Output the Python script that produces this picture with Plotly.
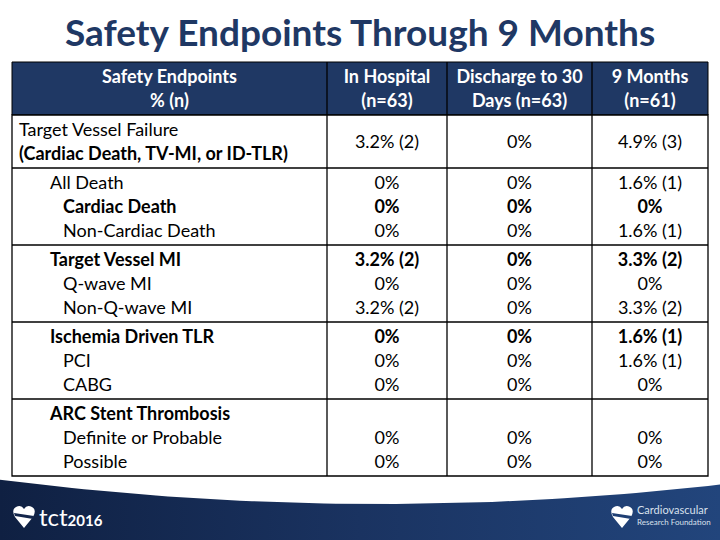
import plotly.graph_objects as go
import numpy as np

# ---------------- data ----------------
title_text = "Safety Endpoints Through 9 Months"
header_lines = [["Safety Endpoints", "% (n)"],
                ["In Hospital", "(n=63)"],
                ["Discharge to 30", "Days (n=63)"],
                ["9 Months", "(n=61)"]]

endpoint_lines = ["Target Vessel Failure", "(Cardiac Death, TV-MI, or ID-TLR)",
                  "All Death", "Cardiac Death", "Non-Cardiac Death",
                  "Target Vessel MI", "Q-wave MI", "Non-Q-wave MI",
                  "Ischemia Driven TLR", "PCI", "CABG",
                  "ARC Stent Thrombosis", "Definite or Probable", "Possible"]
endpoint_level = [0, 0, 1, 2, 2, 1, 2, 2, 1, 2, 2, 1, 2, 2]
endpoint_bold = [False, True, False, True, False, True, False, False,
                 True, False, False, True, False, False]
endpoint_row = [0, 0, 1, 1, 1, 2, 2, 2, 3, 3, 3, 4, 4, 4]
endpoint_slot = [0, 1, 0, 1, 2, 0, 1, 2, 0, 1, 2, 0, 1, 2]

value_row = [0, 1, 1, 1, 2, 2, 2, 3, 3, 3, 4, 4]
value_slot = [0.5, 0, 1, 2, 0, 1, 2, 0, 1, 2, 1, 2]
value_bold = [False, False, True, False, True, False, False, True, False, False, False, False]
in_hospital = ["3.2% (2)", "0%", "0%", "0%", "3.2% (2)", "0%", "3.2% (2)",
               "0%", "0%", "0%", "0%", "0%"]
discharge_30d = ["0%", "0%", "0%", "0%", "0%", "0%", "0%",
                 "0%", "0%", "0%", "0%", "0%"]
nine_months = ["4.9% (3)", "1.6% (1)", "0%", "1.6% (1)", "3.3% (2)", "0%", "3.3% (2)",
               "1.6% (1)", "1.6% (1)", "0%", "0%", "0%"]
row_line_counts = [2, 3, 3, 3, 3]

# ---------------- layout geometry ----------------
NAVY = "#1f3864"
FONT = "Lato"
FS = 18
col_edges = [12, 327, 447, 592, 708]
col_centers = [(col_edges[i] + col_edges[i + 1]) / 2 for i in range(4)]
header_top, header_bottom = 62, 115
pitch = 24
row_pad = 5
text_dy = 2
row_tops = [header_bottom]
for n in row_line_counts:
    row_tops.append(row_tops[-1] + n * pitch + row_pad)
indent_x = {0: 19, 1: 50, 2: 63}


def line_y(row, slot):
    return row_tops[row] + row_pad / 2 + pitch / 2 + pitch * slot + text_dy


def b(txt, flag):
    return f"<b>{txt}</b>" if flag else txt


fig = go.Figure()

# footer band (decoration)
xs = np.linspace(0, 720, 61)
top = 481 + 23 * (1 - ((xs - 380) / 370) ** 2)
fx = list(xs) + [720, 0]
fy = list(top) + [540, 540]
fig.add_trace(go.Scatter(x=fx, y=fy, mode="lines", fill="toself", line=dict(width=0),
                         fillgradient=dict(type="horizontal",
                                           colorscale=[[0, "#0f2042"], [0.5, "#1a3361"], [1, "#22457c"]]),
                         hoverinfo="skip", showlegend=False))

shapes = []
shapes.append(dict(type="rect", x0=col_edges[0], x1=col_edges[-1], y0=header_top, y1=header_bottom,
                   fillcolor=NAVY, line=dict(color="black", width=1), layer="below"))
shapes.append(dict(type="rect", x0=col_edges[0], x1=col_edges[-1], y0=header_bottom, y1=row_tops[-1],
                   fillcolor="white", line=dict(color="black", width=1.3), layer="below"))
for yv in row_tops[1:-1]:
    shapes.append(dict(type="line", x0=col_edges[0], x1=col_edges[-1], y0=yv, y1=yv,
                       line=dict(color="black", width=1.3)))
for xv in col_edges[1:-1]:
    shapes.append(dict(type="line", x0=xv, x1=xv, y0=header_top, y1=row_tops[-1],
                       line=dict(color="black", width=1.3)))

# logos (decoration)
shapes.append(dict(type="path",
                   path="M 24 528 L 15 517 Q 11 510 16 507 Q 21 504 24 509 Q 27 504 32 507 Q 37 510 33 517 Z",
                   fillcolor="white", line=dict(width=0)))
shapes.append(dict(type="path", path="M 14 513 L 34 516 L 33 519 L 15 516 Z",
                   fillcolor="#13264b", line=dict(width=0)))
shapes.append(dict(type="path",
                   path="M 622 528 L 613 517 Q 609 510 614 507 Q 619 504 622 509 Q 625 504 630 507 Q 635 510 631 517 Z",
                   fillcolor="white", line=dict(width=0)))
shapes.append(dict(type="path", path="M 612 513 L 632 516 L 631 519 L 613 516 Z",
                   fillcolor="#1f3f73", line=dict(width=0)))

# header text
for ci, lines in enumerate(header_lines):
    fig.add_trace(go.Scatter(
        x=[col_centers[ci]] * len(lines),
        y=[header_top + 14 + text_dy + pitch * k for k in range(len(lines))],
        text=[f"<b>{t}</b>" for t in lines], mode="text",
        textfont=dict(family=FONT, size=FS, color="white"),
        hoverinfo="skip", showlegend=False))

# endpoint column
fig.add_trace(go.Scatter(
    x=[indent_x[l] for l in endpoint_level],
    y=[line_y(r, s) for r, s in zip(endpoint_row, endpoint_slot)],
    text=[b(t, f) for t, f in zip(endpoint_lines, endpoint_bold)],
    mode="text", textposition="middle right",
    textfont=dict(family=FONT, size=FS, color="black"),
    hoverinfo="skip", showlegend=False))

# value columns
for ci, vals in zip([1, 2, 3], [in_hospital, discharge_30d, nine_months]):
    fig.add_trace(go.Scatter(
        x=[col_centers[ci]] * len(vals),
        y=[line_y(r, s) for r, s in zip(value_row, value_slot)],
        text=[b(t, f) for t, f in zip(vals, value_bold)],
        mode="text", textposition="middle center",
        textfont=dict(family=FONT, size=FS, color="black"),
        hoverinfo="skip", showlegend=False))

annotations = [
    dict(x=360, y=31, text=f"<b>{title_text}</b>", showarrow=False,
         font=dict(family=FONT, size=37, color=NAVY), xanchor="center", yanchor="middle"),
    dict(x=37, y=516, text="tct<span style='font-size:15px'><b>2016</b></span>", showarrow=False,
         font=dict(family=FONT, size=24, color="white"), xanchor="left", yanchor="middle"),
    dict(x=635, y=509, text="Cardiovascular", showarrow=False,
         font=dict(family=FONT, size=11, color="#d8e0ec"), xanchor="left", yanchor="middle"),
    dict(x=635, y=522, text="Research Foundation", showarrow=False,
         font=dict(family=FONT, size=8, color="#d8e0ec"), xanchor="left", yanchor="middle"),
]

fig.update_layout(
    width=720, height=540, margin=dict(l=0, r=0, t=0, b=0),
    paper_bgcolor="white", plot_bgcolor="white",
    xaxis=dict(range=[0, 720], visible=False, fixedrange=True),
    yaxis=dict(range=[540, 0], visible=False, fixedrange=True),
    shapes=shapes, annotations=annotations, showlegend=False,
)
fig.write_html("out.html", config={"displayModeBar": False},
               post_script="document.body.style.margin='0';document.body.style.overflow='hidden';")
